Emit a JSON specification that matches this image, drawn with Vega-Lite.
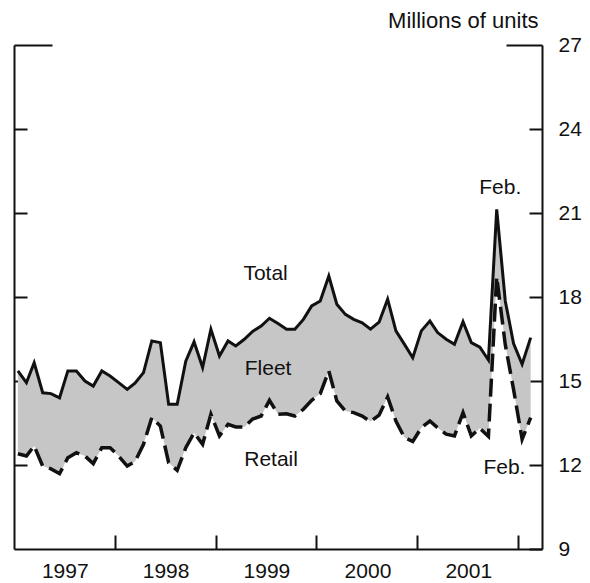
{
  "$schema": "https://vega.github.io/schema/vega-lite/v6.json",
  "width": 528,
  "height": 504,
  "autosize": {"type": "none"},
  "padding": {"left": 14, "top": 45, "right": 48, "bottom": 34},
  "background": "white",
  "config": {
    "view": {"stroke": null},
    "font": "Liberation Sans",
    "axis": {
      "domainColor": "#111",
      "domainWidth": 2,
      "tickColor": "#111",
      "tickWidth": 2,
      "ticks": true,
      "zindex": 1,
      "labelColor": "#111",
      "labelFont": "Liberation Sans",
      "labelFontSize": 21,
      "grid": false,
      "titleFont": "Liberation Sans",
      "titleFontWeight": "normal",
      "titleColor": "#111"
    }
  },
  "datasets": {
    "sales": [
      {"date": "1997-01-15", "total": 15.36, "retail": 12.40},
      {"date": "1997-02-15", "total": 14.94, "retail": 12.32},
      {"date": "1997-03-15", "total": 15.65, "retail": 12.68},
      {"date": "1997-04-15", "total": 14.58, "retail": 11.96},
      {"date": "1997-05-15", "total": 14.55, "retail": 11.86},
      {"date": "1997-06-15", "total": 14.40, "retail": 11.69},
      {"date": "1997-07-15", "total": 15.36, "retail": 12.26},
      {"date": "1997-08-15", "total": 15.36, "retail": 12.44},
      {"date": "1997-09-15", "total": 15.00, "retail": 12.32},
      {"date": "1997-10-15", "total": 14.82, "retail": 12.05},
      {"date": "1997-11-15", "total": 15.36, "retail": 12.62},
      {"date": "1997-12-15", "total": 15.18, "retail": 12.62},
      {"date": "1998-01-15", "total": 14.94, "retail": 12.32},
      {"date": "1998-02-15", "total": 14.70, "retail": 11.96},
      {"date": "1998-03-15", "total": 14.92, "retail": 12.12},
      {"date": "1998-04-15", "total": 15.30, "retail": 12.74},
      {"date": "1998-05-15", "total": 16.43, "retail": 13.69},
      {"date": "1998-06-15", "total": 16.37, "retail": 13.39},
      {"date": "1998-07-15", "total": 14.17, "retail": 12.08},
      {"date": "1998-08-15", "total": 14.17, "retail": 11.81},
      {"date": "1998-09-15", "total": 15.71, "retail": 12.62},
      {"date": "1998-10-15", "total": 16.40, "retail": 13.15},
      {"date": "1998-11-15", "total": 15.48, "retail": 12.74},
      {"date": "1998-12-15", "total": 16.85, "retail": 13.81},
      {"date": "1999-01-15", "total": 15.89, "retail": 13.04},
      {"date": "1999-02-15", "total": 16.43, "retail": 13.45},
      {"date": "1999-03-15", "total": 16.25, "retail": 13.36},
      {"date": "1999-04-15", "total": 16.49, "retail": 13.36},
      {"date": "1999-05-15", "total": 16.77, "retail": 13.64},
      {"date": "1999-06-15", "total": 16.96, "retail": 13.75},
      {"date": "1999-07-15", "total": 17.24, "retail": 14.31},
      {"date": "1999-08-15", "total": 17.05, "retail": 13.81},
      {"date": "1999-09-15", "total": 16.85, "retail": 13.83},
      {"date": "1999-10-15", "total": 16.85, "retail": 13.75},
      {"date": "1999-11-15", "total": 17.20, "retail": 13.99},
      {"date": "1999-12-15", "total": 17.68, "retail": 14.31},
      {"date": "2000-01-15", "total": 17.86, "retail": 14.55},
      {"date": "2000-02-15", "total": 18.75, "retail": 15.36},
      {"date": "2000-03-15", "total": 17.74, "retail": 14.29},
      {"date": "2000-04-15", "total": 17.38, "retail": 13.93},
      {"date": "2000-05-15", "total": 17.20, "retail": 13.87},
      {"date": "2000-06-15", "total": 17.08, "retail": 13.75},
      {"date": "2000-07-15", "total": 16.85, "retail": 13.55},
      {"date": "2000-08-15", "total": 17.10, "retail": 13.78},
      {"date": "2000-09-15", "total": 17.92, "retail": 14.43},
      {"date": "2000-10-15", "total": 16.79, "retail": 13.57},
      {"date": "2000-11-15", "total": 16.31, "retail": 12.98},
      {"date": "2000-12-15", "total": 15.83, "retail": 12.84},
      {"date": "2001-01-15", "total": 16.79, "retail": 13.33},
      {"date": "2001-02-15", "total": 17.14, "retail": 13.57},
      {"date": "2001-03-15", "total": 16.73, "retail": 13.33},
      {"date": "2001-04-15", "total": 16.49, "retail": 13.10},
      {"date": "2001-05-15", "total": 16.31, "retail": 13.04},
      {"date": "2001-06-15", "total": 17.12, "retail": 13.87},
      {"date": "2001-07-15", "total": 16.37, "retail": 13.04},
      {"date": "2001-08-15", "total": 16.21, "retail": 13.31},
      {"date": "2001-09-15", "total": 15.75, "retail": 13.02},
      {"date": "2001-10-15", "total": 21.13, "retail": 18.72},
      {"date": "2001-11-15", "total": 17.86, "retail": 16.30},
      {"date": "2001-12-15", "total": 16.34, "retail": 14.70},
      {"date": "2002-01-15", "total": 15.60, "retail": 12.92},
      {"date": "2002-02-15", "total": 16.55, "retail": 13.69}
    ],
    "labels": [
      {"label": "Total", "date": "1999-07-01", "value": 18.81},
      {"label": "Fleet", "date": "1999-07-10", "value": 15.42},
      {"label": "Retail", "date": "1999-07-21", "value": 12.19},
      {"label": "Feb.", "date": "2001-10-28", "value": 21.9},
      {"label": "Feb.", "date": "2001-11-12", "value": 11.9}
    ]
  },
  "data": {"name": "sales"},
  "encoding": {
    "x": {
      "field": "date",
      "type": "temporal",
      "scale": {
        "type": "utc",
        "domain": [
          {"year": 1997, "month": 1, "date": 1, "utc": true},
          {"year": 2002, "month": 3, "date": 28, "utc": true}
        ]
      },
      "axis": {
        "title": null,
        "orient": "bottom",
        "values": [
          {"year": 1998, "month": 1, "date": 1, "utc": true},
          {"year": 1999, "month": 1, "date": 1, "utc": true},
          {"year": 2000, "month": 1, "date": 1, "utc": true},
          {"year": 2001, "month": 1, "date": 1, "utc": true},
          {"year": 2002, "month": 1, "date": 1, "utc": true}
        ],
        "tickSize": -14,
        "labelPadding": 25,
        "labelOffset": -50,
        "labelExpr": "toString(utcyear(datum.value) - 1)",
        "labelFlush": false,
        "labelOverlap": false
      }
    }
  },
  "layer": [
    {
      "mark": {"type": "area", "color": "#c6c6c6", "opacity": 1},
      "encoding": {
        "y": {
          "field": "total",
          "type": "quantitative",
          "scale": {"domain": [9, 27], "nice": false, "zero": false},
          "axis": {
            "orient": "right",
            "values": [9, 12, 15, 18, 21, 24, 27],
            "tickSize": {"condition": {"test": "datum.value == 27", "value": -36}, "value": -13},
            "labelPadding": {"condition": {"test": "datum.value == 27", "value": 52}, "value": 29},
            "title": "Millions of units",
            "titleAngle": 0,
            "titleAlign": "right",
            "titleBaseline": "alphabetic",
            "titleX": -4,
            "titleY": -18,
            "titleFontSize": 22
          }
        },
        "y2": {"field": "retail"}
      }
    },
    {
      "mark": {"type": "line", "color": "#111", "strokeWidth": 3, "strokeJoin": "miter"},
      "encoding": {
        "y": {
          "field": "total",
          "type": "quantitative",
          "axis": {
            "orient": "left",
            "values": [12, 15, 18, 21, 24, 27],
            "tickSize": {"condition": {"test": "datum.value == 27", "value": -38}, "value": -13},
            "labels": false,
            "title": null
          }
        }
      }
    },
    {
      "mark": {"type": "line", "color": "#111", "strokeWidth": 3.5, "strokeDash": [18, 7], "strokeJoin": "miter"},
      "encoding": {
        "y": {"field": "retail", "type": "quantitative", "axis": null}
      }
    },
    {
      "data": {"name": "labels"},
      "mark": {"type": "text", "font": "Liberation Sans", "fontSize": 21, "color": "#111", "baseline": "middle", "align": "center"},
      "encoding": {
        "x": {"field": "date", "type": "temporal"},
        "y": {"field": "value", "type": "quantitative", "axis": null},
        "text": {"field": "label"}
      }
    }
  ],
  "resolve": {"axis": {"y": "independent"}}
}
